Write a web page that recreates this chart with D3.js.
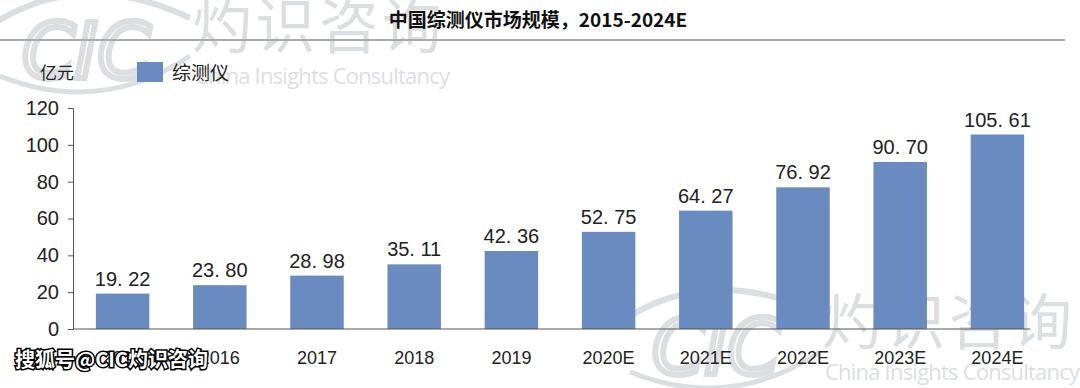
<!DOCTYPE html>
<html>
<head>
<meta charset="utf-8">
<script src="https://cdn.jsdelivr.net/npm/d3@7"></script>
<style>
  body { margin: 0; background: #fff; }
  text { font-family: "Noto Sans CJK SC", "Noto Sans", sans-serif; }
</style>
</head>
<body>
<div id="chart"></div>
<script>
var years = ["2015", "2016", "2017", "2018", "2019", "2020E", "2021E", "2022E", "2023E", "2024E"];
var values = [19.22, 23.80, 28.98, 35.11, 42.36, 52.75, 64.27, 76.92, 90.70, 105.61];
var yTicks = [0, 20, 40, 60, 80, 100, 120];

var width = 1080, height = 388;

var svg = d3.select("#chart").append("svg")
    .attr("width", width)
    .attr("height", height);

// watermarks (faded)
function watermark(x, y, s) {
    var g = svg.append("g").attr("transform", "translate(" + x + "," + y + ") scale(" + s + ")")
        .attr("opacity", 0.3);
    g.append("path")
        .attr("d", "M-20,30 Q70,-30 180,22")
        .attr("fill", "none").attr("stroke", "#8d96a0").attr("stroke-width", 6);
    g.append("path")
        .attr("d", "M-10,80 Q90,120 180,60")
        .attr("fill", "none").attr("stroke", "#8d96a0").attr("stroke-width", 5);
    g.append("text").attr("x", 12).attr("y", 82)
        .attr("font-size", 76).attr("font-style", "italic")
        .attr("fill", "none").attr("stroke", "#8d96a0").attr("stroke-width", 6)
        .style("font-family", "DejaVu Sans")
        .text("CIC");
    g.append("text").attr("x", 182).attr("y", 52)
        .attr("font-size", 60).attr("fill", "#8d96a0")
        .attr("textLength", 250)
        .text("灼识咨询");
    g.append("text").attr("x", 185).attr("y", 88)
        .attr("font-size", 22).attr("fill", "#8d96a0")
        .attr("textLength", 255)
        .style("font-family", "Open Sans")
        .text("China Insights Consultancy");
}
watermark(10, -4, 1);
watermark(640, 292, 1.0);

// title
svg.append("text")
    .attr("x", 538).attr("y", 27)
    .attr("text-anchor", "middle")
    .attr("font-size", 19).attr("font-weight", "bold")
    .attr("fill", "#111")
    .text("中国综测仪市场规模，2015-2024E");

svg.append("line")
    .attr("x1", 0).attr("x2", 1065)
    .attr("y1", 40).attr("y2", 40)
    .attr("stroke", "#aaa").attr("stroke-width", 2);

// unit + legend
svg.append("text")
    .attr("x", 40).attr("y", 79)
    .attr("font-size", 17).attr("fill", "#222")
    .text("亿元");
svg.append("rect")
    .attr("x", 137).attr("y", 62).attr("width", 26).attr("height", 20)
    .attr("fill", "#6a8bbf");
svg.append("text")
    .attr("x", 172).attr("y", 80)
    .attr("font-size", 19).attr("fill", "#222")
    .text("综测仪");

// scales
var x = d3.scaleBand()
    .domain(years)
    .range([74, 1046])
    .paddingInner(0.45)
    .paddingOuter(0.225);

var y = d3.scaleLinear()
    .domain([0, 120])
    .range([329, 108]);

// y axis
var yAxis = svg.append("g")
    .attr("transform", "translate(73,0)")
    .call(d3.axisLeft(y).tickValues(yTicks).tickSize(5).tickPadding(9));
yAxis.select(".domain").attr("stroke", "#555");
yAxis.selectAll(".tick line").attr("stroke", "#555");
yAxis.selectAll("text")
    .attr("font-size", 20).attr("fill", "#222")
    .style("font-family", "Liberation Sans, Arial, sans-serif");

// bars
svg.selectAll(".bar")
    .data(values)
    .enter().append("rect")
    .attr("class", "bar")
    .attr("x", function(d, i) { return x(years[i]); })
    .attr("y", function(d) { return y(d); })
    .attr("width", x.bandwidth())
    .attr("height", function(d) { return y(0) - y(d); })
    .attr("fill", "#6a8bbf");

// value labels
svg.selectAll(".val")
    .data(values)
    .enter().append("text")
    .attr("class", "val")
    .attr("x", function(d, i) { return x(years[i]) + x.bandwidth() / 2; })
    .attr("y", function(d) { return y(d) - 8; })
    .attr("text-anchor", "middle")
    .attr("font-size", 20).attr("fill", "#222")
    .style("font-family", "Liberation Sans, Arial, sans-serif")
    .text(function(d) { return d.toFixed(2).replace(".", ". "); });

// x axis baseline
svg.append("line")
    .attr("x1", 73).attr("x2", 1030)
    .attr("y1", y(0)).attr("y2", y(0))
    .attr("stroke", "#555").attr("stroke-width", 1.2);

// category labels
svg.selectAll(".cat")
    .data(years)
    .enter().append("text")
    .attr("class", "cat")
    .attr("x", function(d) { return x(d) + x.bandwidth() / 2; })
    .attr("y", 364)
    .attr("text-anchor", "middle")
    .attr("font-size", 18).attr("fill", "#222")
    .style("font-family", "Liberation Sans, Arial, sans-serif")
    .text(function(d) { return d; });

// source stamp
svg.append("text")
    .attr("x", 15).attr("y", 367)
    .attr("font-size", 20).attr("font-weight", "bold")
    .attr("fill", "#fff").attr("stroke", "#000").attr("stroke-width", 3)
    .attr("paint-order", "stroke")
    .text("搜狐号@CIC灼识咨询");
</script>
</body>
</html>
